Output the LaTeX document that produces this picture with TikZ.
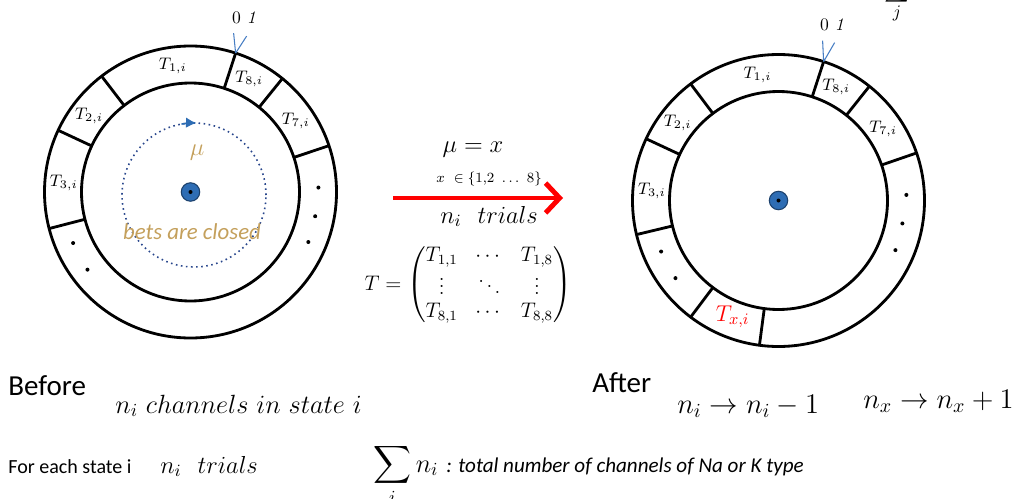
\RequirePackage{fix-cm}
\documentclass[tikz,border=0pt]{standalone}
\usepackage{amsmath,amssymb}
\usepackage{fontspec}
\usepackage{tikz}
\usetikzlibrary{arrows.meta}
\newfontfamily\calibri{Carlito}
\definecolor{betgold}{RGB}{196,160,92}
\definecolor{dotnavy}{RGB}{40,70,140}
\definecolor{pinblue}{RGB}{46,109,180}
\definecolor{tickblue}{RGB}{70,125,195}

\begin{document}
\begin{tikzpicture}[x=0.02cm, y=0.02cm, >=Stealth]
  \def\Ri{109}
  \def\Ro{146}
  \def\Rm{127}
  \tikzset{
    rim/.style={line width=1.6pt},
    cell/.style={font=\fontsize{9.5}{10}\selectfont, inner sep=0pt},
    tick/.style={tickblue, line width=0.6pt},
    pin/.style={circle, fill=pinblue, draw=pinblue!60!black, line width=0.6pt,
      inner sep=0pt, minimum size=10.5pt},
    eq/.style={inner sep=0pt, anchor=base west},
  }
  \useasboundingbox (0,0) rectangle (1014,498);
  \clip (0,0) rectangle (1014,498);

  % ---- before: wheel with closed bets
  \begin{scope}[shift={(190.5,306)}]
    \draw[rim] (0,0) circle[radius=\Ro];
    \draw[rim] (0,0) circle[radius=\Ri];
    \draw[rim] (72:\Ri) -- (72:\Ro);
    \draw[rim] (51:\Ri) -- (51:\Ro);
    \draw[rim] (18.5:\Ri) -- (18.5:\Ro);
    \draw[rim] (127.5:\Ri) -- (127.5:\Ro);
    \draw[rim] (155:\Ri) -- (155:\Ro);
    \draw[rim] (194.5:\Ri) -- (194.5:\Ro);
    \node[cell] (bT1) at (98:\Rm) {$T_{1,i}$};
    \node[cell] (bT8) at (62.5:\Rm) {$T_{8,i}$};
    \node[cell] (bT7) at (34:\Rm) {$T_{7,i}$};
    \node[cell] (bT2) at (143:\Rm) {$T_{2,i}$};
    \node[cell] (bT3) at (176:\Rm) {$T_{3,i}$};
    \fill (2:128) circle[radius=2];
    \fill (-11:127) circle[radius=2];
    \fill (-23:128) circle[radius=2];
    \fill (203.5:128) circle[radius=2];
    \fill (217:129) circle[radius=2];
    \coordinate (bZero) at (72:\Ro);
    \node[pin] (bPin) at (0,0) {};
    \fill (bPin) circle[radius=2];
  \end{scope}
  \draw[tick] (bZero) -- ++(-2,20) (bZero) -- ++(11,17);
  \node[font=\fontsize{10}{11}\selectfont, inner sep=0pt] (bZeroLbl) at (244,480)
    {0 \textit{1}};
  % spinning ball path
  \draw[dotnavy, dotted, line width=0.9pt] (194,303) circle[radius=72];
  \draw[pinblue, line width=0.9pt, -{Latex[length=6pt,width=6pt]}]
    (194,303) ++(100:72) arc (100:88:72);
  \node[betgold, font=\fontsize{14}{15}\selectfont] (mu) at (197,345) {$\mu$};
  \node[betgold, font=\calibri\itshape\fontsize{13}{14}\selectfont] (closed)
    at (192,266) {bets are closed};

  % ---- transition
  \node[font=\fontsize{14}{15}\selectfont, inner sep=0pt, anchor=base] (muX)
    at (473,346) {$\mu = x$};
  \node[font=\fontsize{8}{9}\selectfont, inner sep=0pt, anchor=base] (xSet)
    at (489,316) {$x\ \in \{1{,}2\ \ldots\ 8\}$};
  \coordinate (arrS) at (393,300);
  \coordinate (arrE) at (563,300);
  \draw[red, line width=2.8pt, -{Straight Barb[length=8pt,width=17pt]}]
    (arrS) -- (arrE);
  \node[font=\fontsize{14}{15}\selectfont, inner sep=0pt, anchor=base] (trials)
    at (489,275) {$n_i\ \ trials$};
  \node[font=\fontsize{12}{13}\selectfont, inner sep=0pt] (Tmat) at (468,213)
    {$T=\begin{pmatrix} T_{1,1} & \cdots & T_{1,8}\\ \vdots & \ddots & \vdots\\
      T_{8,1} & \cdots & T_{8,8}\end{pmatrix}$};

  % ---- after: ball landed in x
  \begin{scope}[shift={(778.5,297.5)}]
    \draw[rim] (0,0) circle[radius=\Ro];
    \draw[rim] (0,0) circle[radius=\Ri];
    \draw[rim] (72:\Ri) -- (72:\Ro);
    \draw[rim] (51.5:\Ri) -- (51.5:\Ro);
    \draw[rim] (19:\Ri) -- (19:\Ro);
    \draw[rim] (127:\Ri) -- (127:\Ro);
    \draw[rim] (155:\Ri) -- (155:\Ro);
    \draw[rim] (193.5:\Ri) -- (193.5:\Ro);
    \draw[rim] (233:\Ri) -- (233:\Ro);
    \draw[rim] (262.5:\Ri) -- (262.5:\Ro);
    \node[cell] (aT1) at (99.5:\Rm) {$T_{1,i}$};
    \node[cell] (aT8) at (63:\Rm) {$T_{8,i}$};
    \node[cell] (aT7) at (34.5:\Rm) {$T_{7,i}$};
    \node[cell] (aT2) at (142.5:\Rm) {$T_{2,i}$};
    \node[cell] (aT3) at (175.5:\Rm) {$T_{3,i}$};
    \node[red, font=\fontsize{13}{14}\selectfont, inner sep=0pt] (aTx)
      at (248.5:125) {$T_{x,i}$};
    \fill (2.5:128) circle[radius=2];
    \fill (-10.5:126) circle[radius=2];
    \fill (-23:127) circle[radius=2];
    \fill (203.5:128) circle[radius=2];
    \fill (217:129) circle[radius=2];
    \coordinate (aZero) at (72:\Ro);
    \node[pin] (aPin) at (0,0) {};
    \fill (aPin) circle[radius=2];
  \end{scope}
  \draw[tick] (aZero) -- ++(-1,21) (aZero) -- ++(11,19);
  \node[font=\fontsize{10}{11}\selectfont, inner sep=0pt] (aZeroLbl) at (832,473)
    {0 \textit{1}};
  % sum cut by the top edge
  \node[inner sep=0pt, anchor=south, font=\fontsize{14}{15}\selectfont] (sumJ)
    at (897,496) {$\sum$};
  \node[inner sep=0pt, anchor=north, font=\fontsize{10}{11}\selectfont] (sumJidx)
    at (897,492) {$j$};

  % ---- captions
  \node[eq, font=\calibri\fontsize{16.5}{18}\selectfont] (before) at (8,103) {Before};
  \node[eq, font=\fontsize{15}{16}\selectfont] (chan) at (115,85)
    {$n_i\ channels\ in\ state\ i$};
  \node[eq, font=\calibri\fontsize{11.4}{13}\selectfont] (each) at (8,25)
    {For each state i};
  \node[eq, font=\fontsize{14}{15}\selectfont] (trials2) at (160,25)
    {$n_i\ \ trials$};
  \node[eq, font=\fontsize{15}{16}\selectfont] (sumI) at (373,26)
    {$\displaystyle\sum_i n_i$ {\calibri\itshape\fontsize{12}{14}\selectfont
      : total number of channels of Na or K type}};
  \node[eq, font=\calibri\fontsize{16.5}{18}\selectfont] (after) at (592,106) {After};
  \node[eq, font=\fontsize{16.2}{18}\selectfont] (dec) at (677,85)
    {$n_i \rightarrow n_i - 1$};
  \node[eq, font=\fontsize{16.2}{18}\selectfont] (inc) at (863,90)
    {$n_x \rightarrow n_x + 1$};
\end{tikzpicture}
\end{document}
